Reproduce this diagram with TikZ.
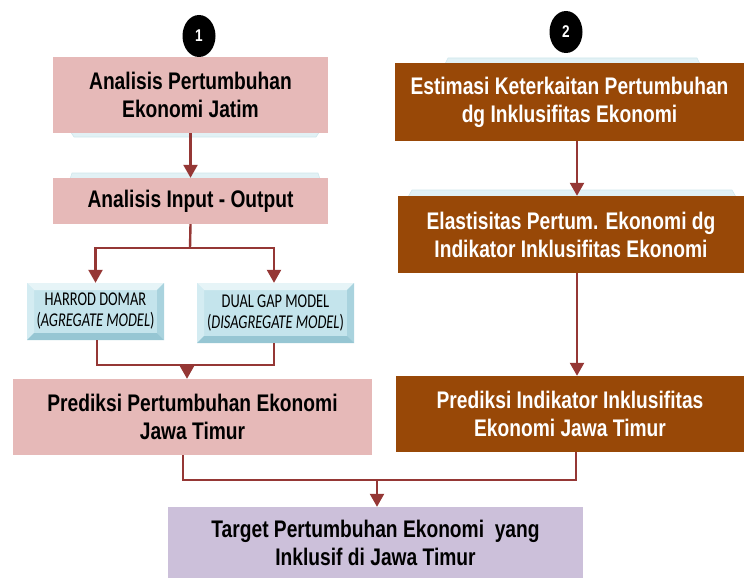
\documentclass[tikz,border=0pt]{standalone}
\usepackage{fontspec}
\newfontfamily\boxfont{Liberation Sans}[FakeStretch=0.8]
\newfontfamily\modfont{Carlito}[FakeStretch=0.74]
\usetikzlibrary{arrows.meta,shapes.geometric}
\definecolor{pinkbox}{HTML}{E6B9B8}
\definecolor{brownbox}{HTML}{984807}
\definecolor{lavbox}{HTML}{CCC0DA}
\definecolor{arrowred}{HTML}{953735}
\definecolor{bevface}{HTML}{C4E4EC}
\definecolor{bevtop}{HTML}{E6F4F7}
\definecolor{bevleft}{HTML}{D4ECF2}
\definecolor{bevright}{HTML}{A9D3DE}
\definecolor{bevbot}{HTML}{96C6D3}
\definecolor{ghost}{HTML}{E2F1F5}
\definecolor{ghostedge}{HTML}{CFE6EC}
\tikzset{
  mainbox/.style={inner sep=0pt, align=center,
    font=\boxfont\bfseries\fontsize{24}{28}\selectfont},
  pinkstep/.style={mainbox, fill=pinkbox, text=black},
  brownstep/.style={mainbox, fill=brownbox, text=white},
  targetstep/.style={mainbox, fill=lavbox, text=black},
  numcirc/.style={ellipse, fill=black, text=white, inner sep=0pt,
    minimum width=33pt, minimum height=42pt,
    font=\boxfont\bfseries\fontsize{17}{18}\selectfont},
  bevelbox/.style={fill=bevface, inner sep=0pt, align=center, text=black,
    font=\modfont\fontsize{19.5}{21}\selectfont,
    path picture={
      \fill[bevtop] (path picture bounding box.north west) -- (path picture bounding box.north east)
        -- ([xshift=-7pt,yshift=-7pt]path picture bounding box.north east)
        -- ([xshift=7pt,yshift=-7pt]path picture bounding box.north west) -- cycle;
      \fill[bevleft] (path picture bounding box.north west) -- (path picture bounding box.south west)
        -- ([xshift=7pt,yshift=7pt]path picture bounding box.south west)
        -- ([xshift=7pt,yshift=-7pt]path picture bounding box.north west) -- cycle;
      \fill[bevright] (path picture bounding box.north east) -- (path picture bounding box.south east)
        -- ([xshift=-7pt,yshift=7pt]path picture bounding box.south east)
        -- ([xshift=-7pt,yshift=-7pt]path picture bounding box.north east) -- cycle;
      \fill[bevbot] (path picture bounding box.south west) -- (path picture bounding box.south east)
        -- ([xshift=-7pt,yshift=7pt]path picture bounding box.south east)
        -- ([xshift=7pt,yshift=7pt]path picture bounding box.south west) -- cycle;
    }},
  conn/.style={draw=arrowred, line width=2.4pt},
  arr/.style={conn, -{Triangle[width=14pt,length=13pt]}},
  ghoststrip/.style={fill=ghost, draw=ghostedge, line width=0.6pt}
}
\begin{document}
\begin{tikzpicture}[x=1pt,y=-1pt]
\useasboundingbox (0,0) rectangle (744,578);

% faint remnants behind boxes
\filldraw[ghoststrip] (70,131) -- (320,131) -- (316,137) -- (74,137) -- cycle;
\filldraw[ghoststrip] (72,173) -- (318,173) -- (320,179) -- (70,179) -- cycle;
\filldraw[ghoststrip] (448,58) -- (697,58) -- (700,64) -- (445,64) -- cycle;
\filldraw[ghoststrip] (412,190) -- (732,190) -- (736,197) -- (408,197) -- cycle;

% number markers
\node[numcirc] (n1) at (199,36) {1};
\node[numcirc] (n2) at (566,32) {2};

% left column
\node[pinkstep, minimum width=275pt, minimum height=76pt] (A1) at (190.5,95)
  {Analisis Pertumbuhan\\Ekonomi Jatim};
\node[pinkstep, minimum width=275pt, minimum height=46pt] (A2) at (190.5,201)
  {Analisis Input - Output};
\node[bevelbox, minimum width=137pt, minimum height=57pt] (H) at (95.5,311.5)
  {HARROD DOMAR\\(\textit{AGREGATE MODEL})};
\node[bevelbox, minimum width=157pt, minimum height=60pt] (D) at (275.5,313)
  {DUAL GAP MODEL\\(\textit{DISAGREGATE MODEL})};
\node[pinkstep, minimum width=359pt, minimum height=76pt] (P) at (192.5,417)
  {Prediksi Pertumbuhan Ekonomi\\Jawa Timur};

% right column
\node[brownstep, minimum width=349pt, minimum height=78pt] (B1) at (569.5,102)
  {Estimasi Keterkaitan Pertumbuhan\\dg Inklusifitas Ekonomi};
\node[brownstep, minimum width=346pt, minimum height=77pt] (B2) at (571,234.5)
  {Elastisitas Pertum. Ekonomi dg\\Indikator Inklusifitas Ekonomi};
\node[brownstep, minimum width=348pt, minimum height=76pt] (B3) at (570,414)
  {Prediksi Indikator Inklusifitas\\Ekonomi Jawa Timur};

% target
\node[targetstep, minimum width=415pt, minimum height=71pt] (T) at (375.5,542.5)
  {Target Pertumbuhan Ekonomi~ yang\\Inklusif di Jawa Timur};

% junction points
\coordinate (j1) at (190,248);
\coordinate (j2) at (187,365);
\coordinate (j3) at (377,480);

% connectors left
\draw[arr] (A1.south) -- (A2.north);
\draw[conn] (A2.south) -- (j1);
\draw[arr] (j1) -| (H.north);
\draw[arr] (j1) -| ([xshift=-1.5pt]D.north);
\draw[conn] ([xshift=1.5pt]H.south) |- (j2);
\draw[conn] ([xshift=-1.5pt]D.south) |- (j2);
\draw[arr] (j2) -- (j2 |- P.north);

% connectors right
\draw[arr] ([xshift=7.5pt]B1.south) -- ([xshift=7.5pt]B1.south |- B2.north);
\draw[arr] ([xshift=6pt]B2.south) -- ([xshift=6pt]B2.south |- B3.north);

% to target
\draw[conn] ([xshift=-9.5pt]P.south) |- (j3);
\draw[conn] ([xshift=6pt]B3.south) |- (j3);
\draw[arr] (j3) -- (j3 |- T.north);
\end{tikzpicture}
\end{document}
